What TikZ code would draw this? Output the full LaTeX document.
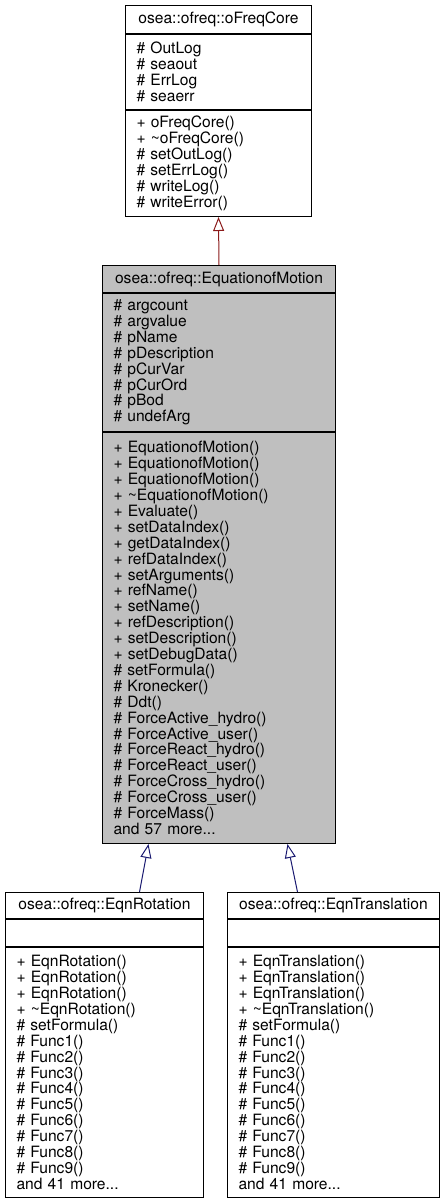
\documentclass[tikz,border=0pt]{standalone}
\usepackage{fontspec}
\setmainfont{TeX Gyre Heros}
\usepackage{tikz,xcolor}
\usetikzlibrary{positioning,arrows.meta}

\definecolor{inhred}{HTML}{8B1A1A}
\definecolor{inhblue}{HTML}{191970}
\definecolor{clsgrey}{HTML}{BFBFBF}

\tikzset{
  cls/.style={draw, line width=1pt, anchor=north west, inner xsep=11pt, inner ysep=0pt,
    font=\fontsize{15.6}{15.9}\selectfont, align=left},
  hd/.style={cls, align=center},
  inh/.style={-{Triangle[open,length=14pt,width=11pt]}, line width=1pt}
}

\begin{document}
\begin{tikzpicture}[x=1pt,y=-1pt]
\useasboundingbox (0,0) rectangle (445,1203);

% base class
\node[hd, text width=164pt, minimum height=28pt] (coreT) at (125,5) {osea::ofreq::oFreqCore};
\node[cls, text width=164pt, minimum height=75pt, below=0pt of coreT] (coreA)
  {\# OutLog\\\# seaout\\\# ErrLog\\\# seaerr};
\node[cls, text width=164pt, minimum height=106pt, below=0pt of coreA] (coreM)
  {+ oFreqCore()\\+ \textasciitilde oFreqCore()\\\# setOutLog()\\\# setErrLog()\\\# writeLog()\\\# writeError()};

% EquationofMotion
\node[hd, fill=clsgrey, text width=211pt, minimum height=27pt] (eomT) at (102,265) {osea::ofreq::EquationofMotion};
\node[cls, fill=clsgrey, text width=211pt, minimum height=138pt, below=0pt of eomT] (eomA)
  {\# argcount\\\# argvalue\\\# pName\\\# pDescription\\\# pCurVar\\\# pCurOrd\\\# pBod\\\# undefArg};
\node[cls, fill=clsgrey, text width=211pt, minimum height=411pt, below=0pt of eomA] (eomM)
  {+ EquationofMotion()\\+ EquationofMotion()\\+ EquationofMotion()\\+ \textasciitilde EquationofMotion()\\
   + Evaluate()\\+ setDataIndex()\\+ getDataIndex()\\+ refDataIndex()\\+ setArguments()\\
   + refName()\\+ setName()\\+ refDescription()\\+ setDescription()\\+ setDebugData()\\
   \# setFormula()\\\# Kronecker()\\\# Ddt()\\\# ForceActive\_hydro()\\\# ForceActive\_user()\\
   \# ForceReact\_hydro()\\\# ForceReact\_user()\\\# ForceCross\_hydro()\\\# ForceCross\_user()\\
   \# ForceMass()\\and 57 more...};

% derived classes
\node[hd, text width=176pt, minimum height=26pt] (rotT) at (5,892) {osea::ofreq::EqnRotation};
\node[cls, text width=176pt, minimum height=27pt, below=0pt of rotT] (rotA) {};
\node[cls, text width=176pt, minimum height=250pt, below=0pt of rotA] (rotM)
  {+ EqnRotation()\\+ EqnRotation()\\+ EqnRotation()\\+ \textasciitilde EqnRotation()\\\# setFormula()\\
   \# Func1()\\\# Func2()\\\# Func3()\\\# Func4()\\\# Func5()\\\# Func6()\\\# Func7()\\\# Func8()\\\# Func9()\\and 41 more...};

\node[hd, text width=190pt, minimum height=26pt] (transT) at (227,892) {osea::ofreq::EqnTranslation};
\node[cls, text width=190pt, minimum height=27pt, below=0pt of transT] (transA) {};
\node[cls, text width=190pt, minimum height=250pt, below=0pt of transA] (transM)
  {+ EqnTranslation()\\+ EqnTranslation()\\+ EqnTranslation()\\+ \textasciitilde EqnTranslation()\\\# setFormula()\\
   \# Func1()\\\# Func2()\\\# Func3()\\\# Func4()\\\# Func5()\\\# Func6()\\\# Func7()\\\# Func8()\\\# Func9()\\and 41 more...};

% inheritance
\draw[inh, inhred] (eomT.north) -- (coreM.south);
\draw[inh, inhblue] ([xshift=35pt]rotT.north) -- ([xshift=-70.5pt]eomM.south);
\draw[inh, inhblue] ([xshift=-36pt]transT.north) -- ([xshift=68.5pt]eomM.south);
\end{tikzpicture}
\end{document}
